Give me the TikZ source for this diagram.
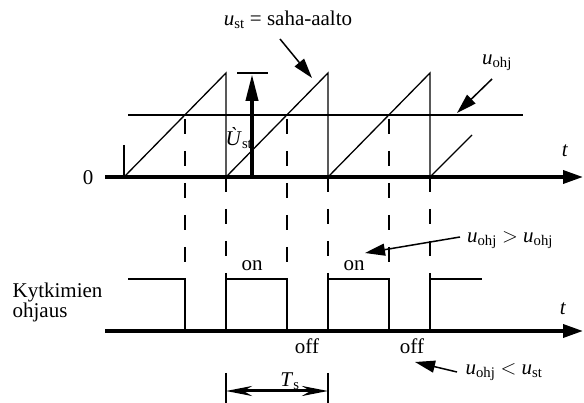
\documentclass[tikz,border=0pt]{standalone}
\usepackage{fontspec}
\setmainfont{Liberation Serif}
\usetikzlibrary{arrows.meta}

\newcommand{\usig}[1]{\textit{u}\textsubscript{#1}}

\begin{document}
\begin{tikzpicture}[x=1pt, y=-1pt, line width=1.3pt,
  every node/.style={font=\fontsize{21}{20}\selectfont, inner sep=0pt},
  axis/.style={line width=3.5pt, -{Triangle[length=20pt,width=13pt]}},
  callout/.style={line width=1.5pt, -{Triangle[length=20pt,width=12pt]}},
  guide/.style={dash pattern=on 15pt off 17pt}]
\useasboundingbox (0,0) rectangle (584,403);
% axes
\coordinate (a0) at (105,177);
\coordinate (a1) at (583,177);
\coordinate (b0) at (105,331);
\coordinate (b1) at (583,331);
\draw[axis] (a0) -- (a1);
\draw[axis] (b0) -- (b1);
\node (zero) at (88,178) {0};
\node (t1) at (565,151) {\textit{t}};
\node (t2) at (563,309) {\textit{t}};
\node[anchor=west, align=left] (kyt) at (12,302) {Kytkimien\\ohjaus};
% sawtooth and control level
\draw (124,145) -- (124,177);
\foreach \s in {124,226,328}
  \draw (\s,177) -- (\s+102,73) -- (\s+102,177);
\draw (430,177) -- (472,135);
\draw (128,115) -- (523,115);
% guide lines
\foreach \s in {124,226,328} {
  \draw[guide] (\s+61,119) -- (\s+61,279);
  \draw[guide] (\s+102,177) -- (\s+102,279);
}
% switching signal
\draw (128,279) -- (185,279) -- (185,331);
\foreach \s in {226,328}
  \draw (\s,331) -- (\s,279) -- (\s+61,279) -- (\s+61,331);
\draw (430,331) -- (430,279) -- (482,279);
\node (on1) at (252,266) {on};
\node (on2) at (354,266) {on};
\node (off1) at (307,346) {off};
\node (off2) at (412,346) {off};
% peak value
\coordinate (pk0) at (252,177);
\coordinate (pk1) at (252,74);
\draw (237,73) -- (268,73);
\draw[line width=4pt, -{Triangle[length=27pt,width=12pt]}] (pk0) -- (pk1);
\node (Ust) at (239,138) {\textit{\`U}\textsubscript{st}};
% period
\draw (226,373) -- (226,403);
\draw (328,373) -- (328,403);
\coordinate (ts0) at (226,391);
\coordinate (ts1) at (328,391);
\draw[line width=3pt, {Stealth[length=26pt,width=10pt]}-{Stealth[length=26pt,width=10pt]}] (ts0) -- (ts1);
\node (Ts) at (290,381) {\textit{T}\textsubscript{s}};
% labels with arrows
\node (ust) at (288,20) {\usig{st} = saha-aalto};
\node (uohj) at (497,63) {\usig{ohj}};
\node (gt) at (510,240) {\usig{ohj} $>$ \usig{ohj}};
\node (lt) at (504,372) {\usig{ohj} $<$ \usig{st}};
\coordinate (ust-a) at (280,39);
\coordinate (ust-b) at (312,78);
\coordinate (uohj-a) at (492,79);
\coordinate (uohj-b) at (457,113);
\coordinate (gt-a) at (460,237);
\coordinate (gt-b) at (365,253);
\coordinate (lt-a) at (457,372);
\coordinate (lt-b) at (415,362);
\draw[callout] (ust-a) -- (ust-b);
\draw[callout] (uohj-a) -- (uohj-b);
\draw[callout] (gt-a) -- (gt-b);
\draw[callout] (lt-a) -- (lt-b);
\end{tikzpicture}
\end{document}
